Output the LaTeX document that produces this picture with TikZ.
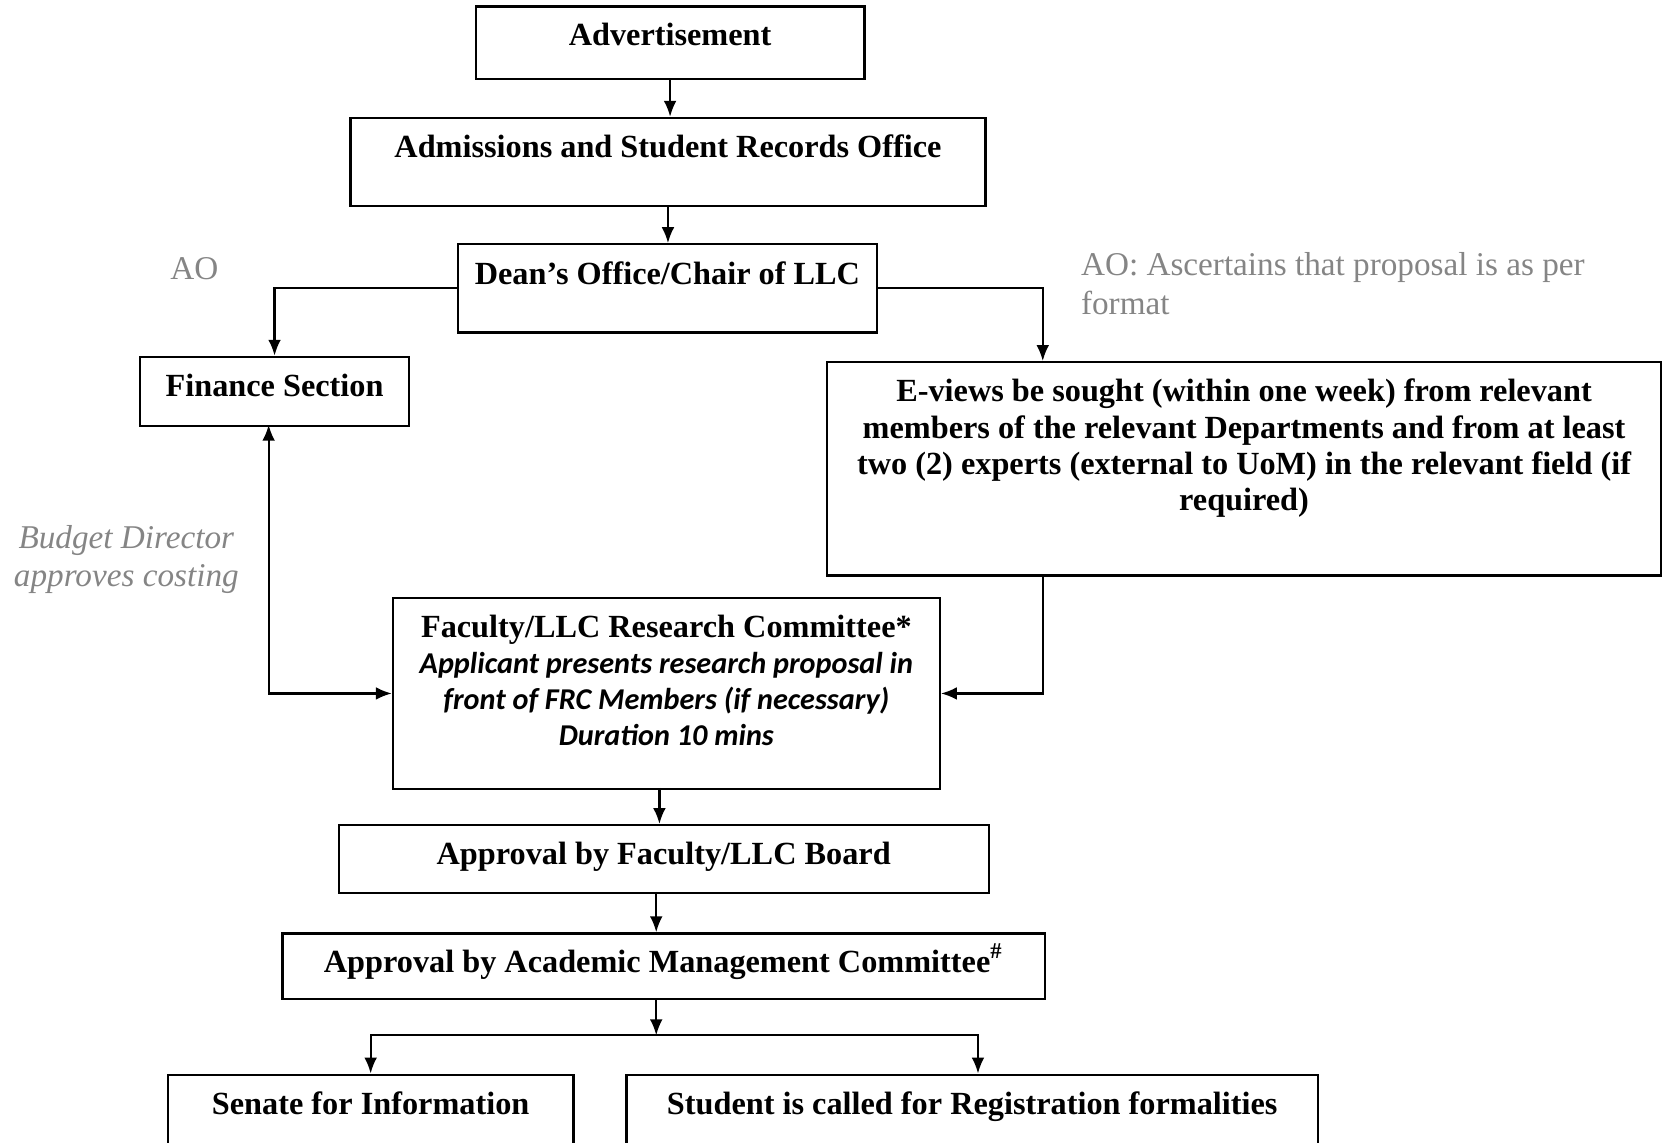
\documentclass[tikz,border=0pt]{standalone}
\usepackage{fontspec}
\setmainfont{Liberation Serif}
\newfontfamily\frcfont{Carlito}
\usetikzlibrary{arrows.meta}
\tikzset{>={Latex[length=1.5mm,width=1.2mm]}}
\colorlet{notecol}{black!48}
\tikzset{box/.style={draw,line width=0.6pt,inner sep=0pt,anchor=north west,font=\fontsize{8.65}{9.7}\selectfont\bfseries}}
\tikzset{note/.style={text=notecol,inner sep=0pt,font=\fontsize{8.9}{10.3}\selectfont}}
\newcommand{\boxtext}[3]{\parbox[c][#2][t]{#1}{\centering\vspace*{0.16cm}#3}}

\begin{document}
\begin{tikzpicture}[line width=0.6pt]
                    \useasboundingbox (0,0) rectangle (15.68,-10.764);
                    \clip (0,0) rectangle (15.68,-10.764);

                    \node[box] (advert) at (4.47,-0.05) {\boxtext{3.66cm}{0.68cm}{Advertisement}};
                    \node[box] (admit) at (3.29,-1.10) {\boxtext{5.98cm}{0.83cm}{Admissions and Student Records Office}};
                    \node[box] (dean) at (4.30,-2.29) {\boxtext{3.95cm}{0.83cm}{Dean’s Office/Chair of LLC}};
                    \node[box] (finance) at (1.31,-3.35) {\boxtext{2.53cm}{0.65cm}{Finance Section}};
                    \node[box] (eviews) at (7.78,-3.40) {\boxtext{7.85cm}{2.01cm}{E-views be sought (within one week) from relevant\\ members of the relevant Departments and from at least\\ two (2) experts (external to UoM) in the relevant field (if\\ required)}};
                    \node[box] (frc) at (3.69,-5.62) {\boxtext{5.15cm}{1.80cm}{Faculty/LLC Research Committee*\\ {\frcfont\fontsize{8.1}{9.7}\selectfont\itshape Applicant presents research proposal in\\ front of FRC Members (if necessary)\\ Duration 10 mins}}};
                    \node[box] (facboard) at (3.18,-7.76) {\boxtext{6.12cm}{0.64cm}{Approval by Faculty/LLC Board}};
                    \node[box] (amc) at (2.65,-8.78) {\boxtext{7.18cm}{0.62cm}{Approval by Academic Management Committee\smash{\textsuperscript{\#}}}};
                    \node[box] (senate) at (1.57,-10.11) {\boxtext{3.82cm}{1.00cm}{Senate for Information}};
                    \node[box] (student) at (5.89,-10.11) {\boxtext{6.51cm}{1.00cm}{Student is called for Registration formalities}};

                    % grey side notes
                    \node[note] (aoleft) at (1.83,-2.53) {AO};
                    \node[note,anchor=north west,align=left] (aoright) at (10.17,-2.37) {AO: Ascertains that proposal is as per\\format};
                    \node[note,align=center,font=\fontsize{8.9}{10.3}\selectfont\itshape] (budget) at (1.19,-5.27) {Budget Director\\approves costing};

                    \coordinate (evtop) at (9.82,-3.40);
                    \coordinate (finin) at (2.53,-4.00);
                    \coordinate (frcout) at (6.21,-7.42);
                    \coordinate (boardout) at (6.18,-8.40);
                    \coordinate (split) at (6.18,-9.75);
                    \coordinate (studin) at (9.21,-10.11);

                    \draw[->] (advert.south) -- (advert.south |- admit.north);
                    \draw[->] (admit.south) -- (admit.south |- dean.north);
                    \draw[->] (dean.west) -| (finance.north);
                    \draw[->] (dean.east) -| (evtop);
                    \draw[->] (evtop |- eviews.south) |- (frc.east);
                    \draw[<->] (finin) |- (frc.west);
                    \draw[->] (frcout) -- (frcout |- facboard.north);
                    \draw[->] (boardout) -- (boardout |- amc.north);
                    \draw[->] (amc.south -| split) -- (split);
                    \draw[->] (split) -| (senate.north);
                    \draw[->] (split) -| (studin);
                \end{tikzpicture}
\end{document}
